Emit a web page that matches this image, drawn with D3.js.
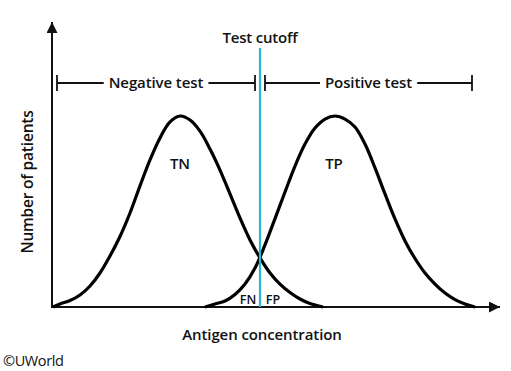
<!DOCTYPE html>
<html><head><meta charset="utf-8">
<script src="https://cdn.jsdelivr.net/npm/d3@7"></script>
<style>body{margin:0;background:#fff}svg{display:block}text{font-family:"Open Sans",sans-serif;fill:#111}</style>
</head><body>
<script>
// Antigen concentration (arbitrary units) and relative number of patients (peak = 100)
const negConc = [0.25, 2, 4.5, 7, 9.5, 12, 14.5, 17, 19.5, 22, 24.5, 27, 29.5, 32, 34.5, 37, 39.5, 42, 44.5, 47, 49.5, 52, 54.5, 57, 59.5, 62, 64.5, 67.75];
const negCount = [0, 1.6, 3.4, 6.3, 11.0, 17.8, 26.7, 36.9, 49.2, 63.4, 77.0, 88.5, 96.9, 100, 97.9, 92.1, 82.7, 71.7, 59.2, 46.6, 35.1, 25.7, 17.8, 12.0, 7.6, 4.2, 1.8, 0];
const posConc = [38.25, 40.75, 43.25, 45.75, 48.25, 50.75, 53.25, 55.75, 58.25, 60.75, 63.25, 65.75, 68.25, 70.75, 73.25, 75.75, 78.25, 80.75, 83.25, 85.75, 88.25, 90.75, 93.25, 95.75, 98.25, 100.75, 103.25, 105.75];
const posCount = [0, 1.6, 3.1, 6.5, 12.0, 20.4, 32.5, 46.3, 60.2, 73.8, 85.3, 93.7, 98.4, 100, 98.4, 94.2, 85.3, 72.8, 59.2, 46.1, 34.6, 25.4, 17.8, 12.0, 7.3, 3.9, 1.6, 0];
const cutoff = 52;
const negRange = [1.25, 50.75];
const posRange = [53.25, 105];
const curveLabels = [{t:"TN", x:32, y:72}, {t:"TP", x:70.5, y:72}];
const tailLabels = [{t:"FN", x:49, y:1.5}, {t:"FP", x:55.25, y:1.5}];

const W = 511, H = 371;
const svg = d3.select("body").append("svg").attr("width", W).attr("height", H);
const x = d3.scaleLinear().domain([0, 112]).range([52, 500]);
const y = d3.scaleLinear().domain([0, 100]).range([307, 116]);
const axisTop = 22;

const defs = svg.append("defs");
defs.append("marker").attr("id","arr").attr("viewBox","0 0 10 10").attr("refX",10).attr("refY",5)
  .attr("markerWidth",6).attr("markerHeight",5.5).attr("markerUnits","strokeWidth").attr("orient","auto")
  .append("path").attr("d","M0,0L10,5L0,10Z").attr("fill","#111");

svg.append("line").attr("x1", x(0)).attr("x2", x(0)).attr("y1", y(0)+1).attr("y2", axisTop)
  .attr("stroke","#111").attr("stroke-width",2).attr("marker-end","url(#arr)");
svg.append("line").attr("x1", x(0)-1).attr("x2", x(112)).attr("y1", y(0)).attr("y2", y(0))
  .attr("stroke","#111").attr("stroke-width",2).attr("marker-end","url(#arr)");

const line = d3.line().x(d => x(d[0])).y(d => y(d[1])).curve(d3.curveCatmullRom.alpha(0.5));
[[negConc, negCount], [posConc, posCount]].forEach(([cx, cy]) => {
  svg.append("path").attr("d", line(cx.map((v,i)=>[v, cy[i]])))
    .attr("fill","none").attr("stroke","#000").attr("stroke-width",3.2).attr("stroke-linecap","butt");
});

svg.append("line").attr("x1", x(cutoff)).attr("x2", x(cutoff)).attr("y1", 48).attr("y2", y(0))
  .attr("stroke","#2cb5d7").attr("stroke-width",2.2);
svg.append("text").attr("x", x(cutoff)).attr("y", 43).attr("text-anchor","middle")
  .attr("font-size",15).attr("font-weight",600).attr("letter-spacing",-0.2).text("Test cutoff");

const by = 83;
function bracket(r, label){
  const x0 = x(r[0]), x1 = x(r[1]), mid = (x0+x1)/2;
  const g = svg.append("g");
  const t = g.append("text").attr("x", mid).attr("y", by+5).attr("text-anchor","middle")
    .attr("font-size",15).attr("font-weight",600).attr("letter-spacing",-0.1).text(label);
  const bb = t.node().getBBox();
  g.append("line").attr("x1",x0).attr("x2",bb.x-5).attr("y1",by).attr("y2",by).attr("stroke","#111").attr("stroke-width",1.8);
  g.append("line").attr("x1",bb.x+bb.width+5).attr("x2",x1).attr("y1",by).attr("y2",by).attr("stroke","#111").attr("stroke-width",1.8);
  [x0,x1].forEach(v=>g.append("line").attr("x1",v).attr("x2",v).attr("y1",by-8).attr("y2",by+8).attr("stroke","#111").attr("stroke-width",1.8));
}
bracket(negRange, "Negative test");
bracket(posRange, "Positive test");

curveLabels.forEach(d => svg.append("text").attr("x", x(d.x)).attr("y", y(d.y)).attr("text-anchor","middle")
  .attr("font-size",15).attr("font-weight",600).text(d.t));
tailLabels.forEach(d => svg.append("text").attr("x", x(d.x)).attr("y", y(d.y)).attr("text-anchor","middle")
  .attr("font-size",12.5).attr("font-weight",600).text(d.t));

svg.append("text").attr("transform","translate(33,182) rotate(-90)").attr("text-anchor","middle")
  .attr("font-size",15.5).attr("font-weight",600).attr("letter-spacing",-0.2).text("Number of patients");
svg.append("text").attr("x", 262).attr("y", 340).attr("text-anchor","middle")
  .attr("font-size",15).attr("font-weight",600).attr("letter-spacing",-0.1).text("Antigen concentration");
svg.append("text").attr("x", 3).attr("y", 366).attr("font-size",14.5).attr("font-weight",400).attr("letter-spacing",-0.4).text("©UWorld");
</script>
</body></html>
